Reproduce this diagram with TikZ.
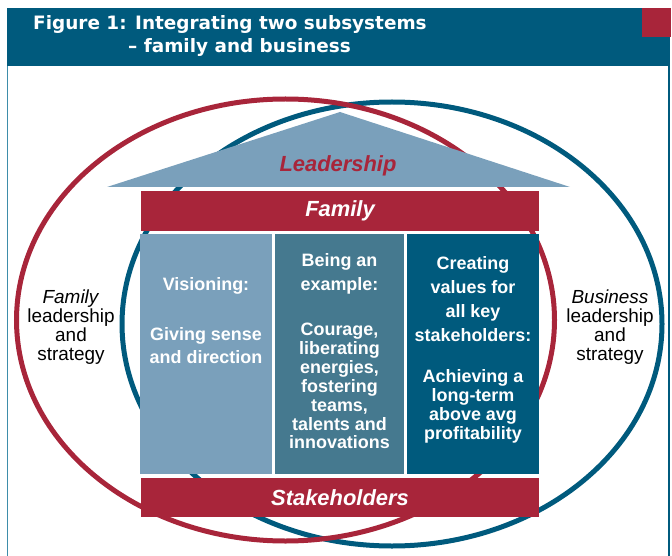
\documentclass[tikz,border=0pt]{standalone}
\usepackage{fontspec}
\setmainfont{Liberation Sans}
\newfontfamily\titlefont{DejaVu Sans}
\usepackage{tikz}

\definecolor{famred}{HTML}{A8253A}
\definecolor{busteal}{HTML}{005A7D}
\definecolor{roofblue}{HTML}{7AA0BB}
\definecolor{midteal}{HTML}{45798F}
\definecolor{framecol}{HTML}{3E8DAA}

\tikzset{
  ring/.style={line width=5bp},
  redbar/.style={fill=famred, draw=none, minimum width=398bp, minimum height=40bp, inner sep=0pt,
    text=white, font=\fontsize{22}{24}\selectfont\bfseries\itshape},
  pillarhead/.style={text=white, align=center, inner sep=0pt, font=\fontsize{18}{24}\selectfont\bfseries},
  pillarbody/.style={text=white, align=center, inner sep=0pt, font=\fontsize{18}{19}\selectfont\bfseries},
  sidetext/.style={align=center, inner sep=0pt, font=\fontsize{19}{19}\selectfont},
  titletext/.style={anchor=base west, inner sep=0pt, text=white, font=\titlefont\fontsize{18.5}{20}\selectfont\bfseries},
}

\begin{document}
\begin{tikzpicture}[x=1bp, y=-1bp]

    \useasboundingbox (0,0) rectangle (672,556);

    % title bar and frame
    \fill[busteal] (7,8) rectangle (670,66);
    \fill[famred] (642,8) rectangle (671,37);
    \draw[framecol, line width=1.2bp] (7.5,66) -- (7.5,556);
    \draw[busteal, line width=1.2bp] (669,66) -- (669,556);

    \node[titletext] (title1) at (33,30) {Figure 1: Integrating two subsystems};
    \node[titletext] (title2) at (128,53) {– family and business};

    % the two subsystems
    \draw[ring, busteal] (392,324) ellipse [x radius=270, y radius=222];
    \draw[ring, famred] (285.5,320) ellipse [x radius=269, y radius=221];

    % roof
    \fill[roofblue] (107,187) -- (340,112) -- (570,187) -- cycle;
    \node[text=famred, inner sep=0pt, font=\fontsize{22}{24}\selectfont\bfseries\itshape] (leader) at (338,166) {Leadership};

    % bars
    \node[redbar] (family) at (340,211) {Family};
    \node[redbar, minimum height=39bp] (stake) at (340,497.5) {Stakeholders};

    % pillars
    \fill[roofblue] (140,234) rectangle (272,474);
    \fill[midteal] (275,234) rectangle (404,474);
    \fill[busteal] (407,234) rectangle (539,474);

    \node[pillarhead] (vishead) at (206,286) {Visioning:};
    \node[pillarbody, font=\fontsize{18}{23}\selectfont\bfseries] (visbody) at (206,346) {Giving sense\\and direction};

    \node[pillarhead] (exhead) at (339.5,274) {Being an\\example:};
    \node[pillarbody] (exbody) at (339.5,386) {Courage,\\liberating\\energies,\\fostering\\teams,\\talents and\\innovations};

    \node[pillarhead] (valhead) at (473,299) {Creating\\values for\\all key\\stakeholders:};
    \node[pillarbody] (valbody) at (473,406.5) {Achieving a\\long-term\\above avg\\profitability};

    % side labels
    \node[sidetext] (famside) at (71,327) {\textit{Family}\\leadership\\and\\strategy};
    \node[sidetext] (busside) at (610,327) {\textit{Business}\\leadership\\and\\strategy};

\end{tikzpicture}
\end{document}
